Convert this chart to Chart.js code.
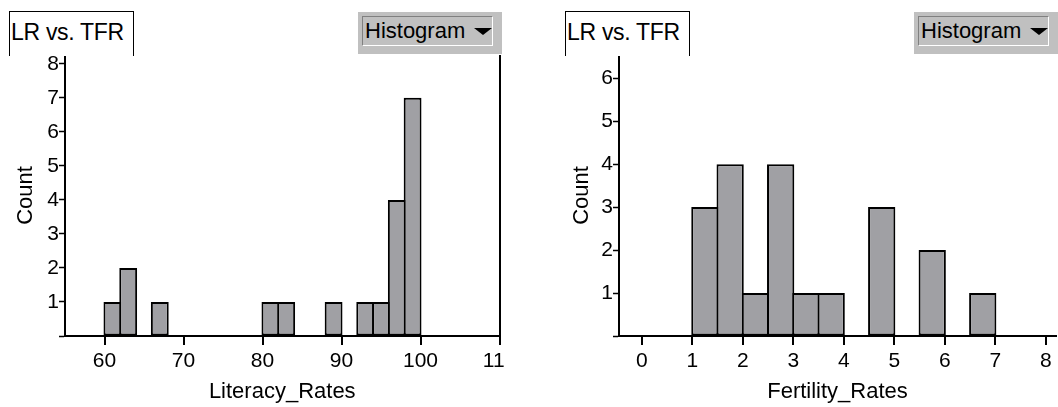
<!DOCTYPE html>
<html>
<head>
<meta charset="utf-8">
<script src="https://cdn.jsdelivr.net/npm/chart.js@4.4.1/dist/chart.umd.min.js"></script>
<style>
  html, body { margin: 0; padding: 0; background: #fff; }
  body { width: 1058px; height: 407px; position: relative; overflow: hidden;
         font-family: 'Liberation Sans', Arial, sans-serif; color: #000; }
  .panel { position: absolute; top: 0; height: 407px; overflow: hidden; }
  .panel canvas { position: absolute; left: 0; top: 0; }
  .tag { position: absolute; left: 9px; top: 11px; width: 123px; height: 44px;
         border: 1px solid #000; border-bottom: none; background: #fff; }
  .tag span { position: absolute; left: 1px; top: 9px; font-size: 23px; line-height: 23px;
              letter-spacing: -0.3px; white-space: nowrap; }
  .btn { position: absolute; left: 358px; top: 12px; width: 144px; height: 42px; background: #c0c0c0; }
  .btn .inner { position: absolute; left: 4px; top: 4px; width: 129px; height: 28px;
                border-top: 1px solid #808080; border-left: 1px solid #808080;
                border-right: 1px solid #fff; border-bottom: 1px solid #fff; }
  .btn span { position: absolute; left: 2px; top: 3px; font-size: 22px; line-height: 22px; white-space: nowrap; }
  .btn i { position: absolute; left: 111px; top: 11px; width: 0; height: 0;
           border-left: 9px solid transparent; border-right: 9px solid transparent; border-top: 7px solid #000; }
</style>
</head>
<body>
<div class="panel" id="p1" style="left:0; width:505px;">
  <canvas id="litChart" width="540" height="407"></canvas>
  <div class="tag"><span>LR vs. TFR</span></div>
  <div class="btn"><div class="inner"><span>Histogram</span><i></i></div></div>
</div>
<div class="panel" id="p2" style="left:556px; width:502px;">
  <canvas id="fertChart" width="540" height="407"></canvas>
  <div class="tag"><span>LR vs. TFR</span></div>
  <div class="btn"><div class="inner"><span>Histogram</span><i></i></div></div>
</div>
<script>
'use strict';

// Literacy rates: bin centres (width 2) and counts
const litBins = [61, 63, 67, 81, 83, 89, 93, 95, 97, 99];
const litCounts = [1, 2, 1, 1, 1, 1, 1, 1, 4, 7];
const litTicks = [60, 70, 80, 90, 100, 110];
const litCountTicks = [0, 1, 2, 3, 4, 5, 6, 7, 8];

// Fertility rates: bin centres (width 0.5) and counts
const fertBins = [1.25, 1.75, 2.25, 2.75, 3.25, 3.75, 4.75, 5.75, 6.75];
const fertCounts = [3, 4, 1, 4, 1, 1, 3, 2, 1];
const fertTicks = [0, 1, 2, 3, 4, 5, 6, 7, 8];
const fertCountTicks = [0, 1, 2, 3, 4, 5, 6];

const FONT = "'Liberation Sans', Arial, sans-serif";

function createHistogram(canvas, o) {
  return new Chart(canvas, {
    type: 'bar',
    data: {
      datasets: [{
        data: o.bins.map((x, i) => ({ x, y: o.counts[i] })),
        backgroundColor: '#a0a0a4',
        borderColor: '#000',
        borderWidth: 2,
        borderSkipped: false,
        inflateAmount: 0,
        categoryPercentage: 1,
        barPercentage: o.barPct,
      }],
    },
    options: {
      responsive: false,
      animation: false,
      devicePixelRatio: 1,
      layout: { padding: { left: 0, top: 55, right: o.padRight, bottom: 0 } },
      plugins: { legend: { display: false }, tooltip: { enabled: false } },
      scales: {
        x: {
          type: 'linear',
          min: o.xMin,
          max: o.xMax,
          offset: false,
          afterBuildTicks: (a) => { a.ticks = o.xTicks.map((v) => ({ value: v })); },
          afterFit: (s) => { s.height = 71; },
          grid: {
            offset: false,
            drawOnChartArea: true,
            color: (c) => (c.tick && c.tick.value === o.frameAt ? '#000' : 'rgba(0,0,0,0)'),
            lineWidth: 2,
            tickColor: '#000',
            tickLength: 9,
            tickWidth: 2,
          },
          border: { color: '#000', width: 2 },
          ticks: { color: '#000', font: { family: FONT, size: 21 }, padding: 4, maxRotation: 0, autoSkip: false },
          title: { display: true, text: o.xTitle, color: '#000', font: { family: FONT, size: 22 }, padding: { top: 0, bottom: 2 } },
        },
        y: {
          min: 0,
          max: o.yMax,
          afterBuildTicks: (a) => { a.ticks = o.yTicks.map((v) => ({ value: v })); },
          afterFit: (s) => { s.width = o.axisX; },
          grid: { offset: false, drawOnChartArea: false, tickColor: '#000', tickLength: 6, tickWidth: 1.5 },
          border: { color: '#000', width: 2 },
          ticks: { color: '#000', font: { family: FONT, size: 21 }, padding: 0, callback: (v) => (v === 0 ? '' : v) },
          title: { display: true, text: 'Count', color: '#000', font: { family: FONT, size: 22 }, padding: { top: 13, bottom: 0 } },
        },
      },
    },
  });
}

createHistogram(document.getElementById('litChart'), {
  bins: litBins, counts: litCounts, xTicks: litTicks, yTicks: litCountTicks,
  xMin: 55, xMax: 110, yMax: 8.26, xTitle: 'Literacy_Rates',
  axisX: 65, padRight: 40.5, barPct: 1.13, frameAt: 110,
});

createHistogram(document.getElementById('fertChart'), {
  bins: fertBins, counts: fertCounts, xTicks: fertTicks, yTicks: fertCountTicks,
  xMin: -0.45, xMax: 8.2, yMax: 6.54, xTitle: 'Fertility_Rates',
  axisX: 63, padRight: 40, barPct: 1.08, frameAt: null,
});
</script>
</body>
</html>
